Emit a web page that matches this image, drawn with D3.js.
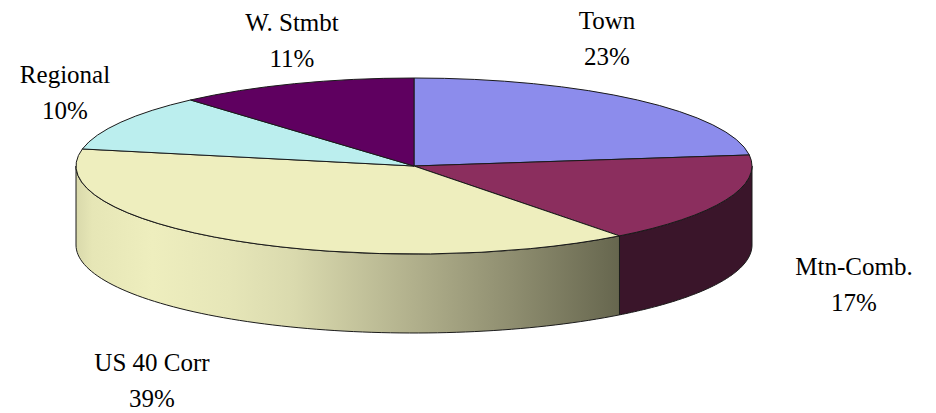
<!DOCTYPE html>
<html>
<head>
<meta charset="utf-8">
<script src="https://cdn.jsdelivr.net/npm/d3@7"></script>
<style>
  html, body { margin: 0; padding: 0; background: #fff; }
  text { font-family: "Liberation Serif", serif; font-size: 25px; fill: #000; }
  .edge { stroke: #1a1a1a; stroke-width: 1; stroke-linejoin: round; vector-effect: non-scaling-stroke; }
</style>
</head>
<body>
<div id="chart"></div>
<script>
const categories = ["Town", "Mtn-Comb.", "US 40 Corr", "Regional", "W. Stmbt"];
// slice sizes, percent labels as printed on it
const sliceValues = [23.0, 16.6, 38.5, 10.4, 11.5];
const percentLabels = ["23%", "17%", "39%", "10%", "11%"];
const topColors = ["#8c8cec", "#8b2e5e", "#eeeebe", "#bbeeee", "#5f0060"];
const sideColors = ["#46466f", "#3a152a", "url(#us-side)", "#5e7777", "#300030"];

const width = 936;
const height = 413;
const cx = 414;
const cy = 166;
const rx = 338;
const ry = 88;
const depth = 79;

const labelPos = [
  { x: 607, y: 29 },
  { x: 854, y: 275 },
  { x: 152, y: 371 },
  { x: 65, y: 83 },
  { x: 292, y: 31 },
];

const svg = d3
  .select("#chart")
  .append("svg")
  .attr("width", width)
  .attr("height", height)
  .style("display", "block");

const defs = svg.append("defs");
const grad = defs
  .append("linearGradient")
  .attr("id", "us-side")
  .attr("gradientUnits", "userSpaceOnUse")
  .attr("x1", 76)
  .attr("x2", 620)
  .attr("y1", 0)
  .attr("y2", 0);

[
  [0, "#d9d9ab"],
  [0.03, "#e6e6b6"],
  [0.14, "#eeeebe"],
  [0.28, "#e6e6b8"],
  [0.4, "#dadaae"],
  [0.62, "#b1b08c"],
  [0.8, "#8f8e70"],
  [1, "#66664e"],
].forEach(([o, c]) => grad.append("stop").attr("offset", o).attr("stop-color", c));

const pie = d3.pie().sort(null).value((d) => d);
const slices = pie(sliceValues);

// angle is clockwise from 12 o'clock, same as d3.pie
const px = (a) => cx + rx * Math.sin(a);
const py = (a) => cy - ry * Math.cos(a);

// only the front half of the rim is visible
const sideLine = d3.line().x((d) => d[0]).y((d) => d[1]);
function sidePath(d) {
  const a0 = Math.max(d.startAngle, Math.PI / 2);
  const a1 = Math.min(d.endAngle, (3 * Math.PI) / 2);
  if (a1 <= a0) return null;
  const angles = d3.range(0, 81).map((i) => a0 + ((a1 - a0) * i) / 80);
  const top = angles.map((a) => [px(a), py(a)]);
  const bottom = angles.map((a) => [px(a), py(a) + depth]).reverse();
  return sideLine(top.concat(bottom)) + "Z";
}

svg
  .append("g")
  .selectAll("path")
  .data(slices)
  .enter()
  .append("path")
  .attr("class", "edge")
  .attr("d", sidePath)
  .attr("fill", (d, i) => sideColors[i]);

const arc = d3.arc().innerRadius(0).outerRadius(rx);

svg
  .append("g")
  .attr("transform", `translate(${cx},${cy}) scale(1,${ry / rx})`)
  .selectAll("path")
  .data(slices)
  .enter()
  .append("path")
  .attr("class", "edge")
  .attr("d", arc)
  .attr("fill", (d, i) => topColors[i]);

const labels = svg
  .append("g")
  .selectAll("text")
  .data(categories)
  .enter()
  .append("text")
  .attr("text-anchor", "middle")
  .attr("x", (d, i) => labelPos[i].x)
  .attr("y", (d, i) => labelPos[i].y);

labels.append("tspan").text((d) => d);
labels
  .append("tspan")
  .attr("x", (d, i) => labelPos[i].x)
  .attr("dy", 36)
  .text((d, i) => percentLabels[i]);
</script>
</body>
</html>
